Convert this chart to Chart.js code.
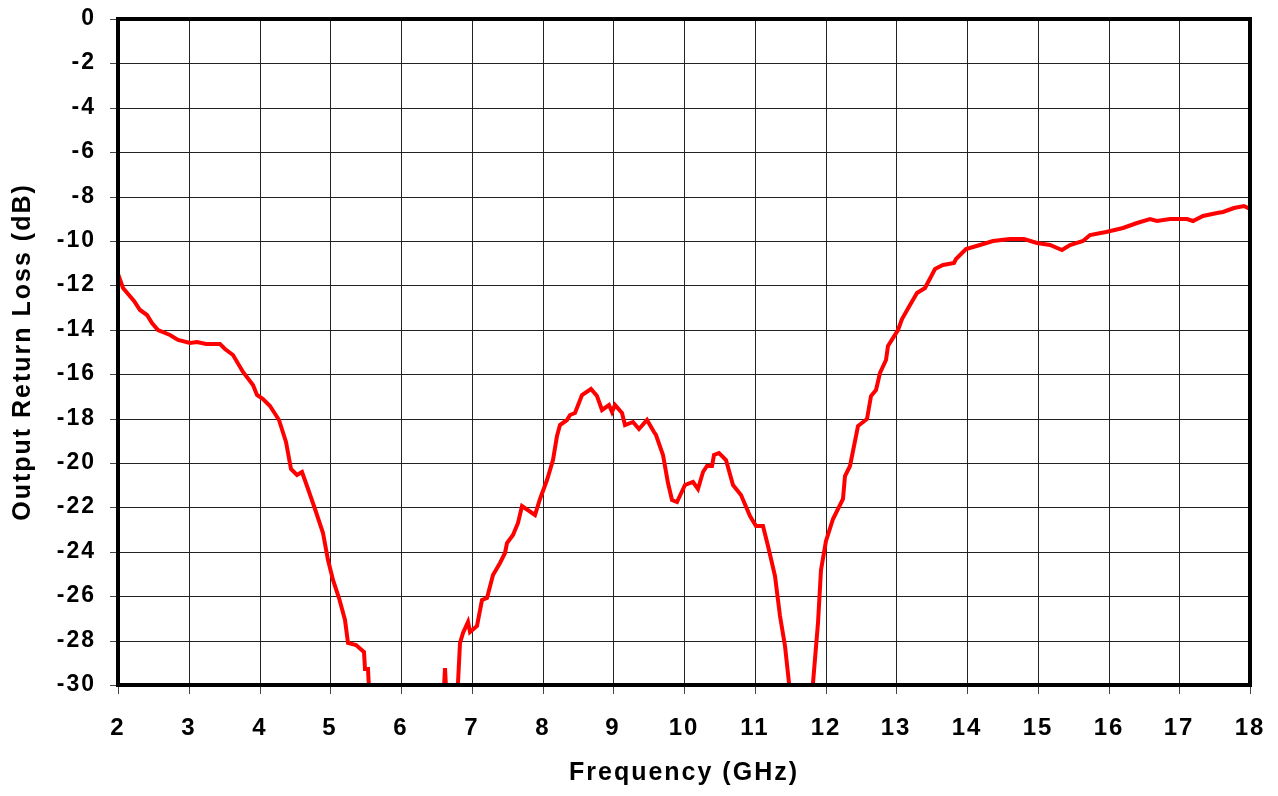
<!DOCTYPE html>
<html>
<head>
<meta charset="utf-8">
<script src="https://cdn.jsdelivr.net/npm/chart.js@4"></script>
<style>
  html, body { margin: 0; padding: 0; background: #fff; }
  #wrap { width: 1278px; height: 796px; }
</style>
</head>
<body>
<div id="wrap"><canvas id="chart" width="1278" height="796"></canvas></div>
<script>
// Output return loss vs frequency
const freqGHz = [
  2.00, 2.07, 2.22, 2.31, 2.41, 2.48, 2.57, 2.73, 2.85, 3.02, 3.11, 3.25, 3.44, 3.51, 3.63,
  3.77, 3.91, 3.96, 4.05, 4.15, 4.27, 4.38, 4.45, 4.53, 4.60, 4.67, 4.78, 4.90, 4.97, 5.04,
  5.13, 5.21, 5.25, 5.37, 5.47, 5.49, 5.54, 5.56,
  6.60, 6.62, 6.65, 6.77, 6.80, 6.83, 6.88, 6.94, 6.97, 7.07, 7.14, 7.21, 7.30, 7.40, 7.47,
  7.50, 7.59, 7.66, 7.71, 7.89, 7.96, 8.06, 8.15, 8.20, 8.25, 8.34, 8.39, 8.46, 8.56, 8.68,
  8.77, 8.84, 8.94, 8.98, 9.03, 9.12, 9.17, 9.28, 9.36, 9.47, 9.57, 9.61, 9.71, 9.78, 9.83,
  9.90, 10.01, 10.13, 10.20, 10.27, 10.32, 10.40, 10.43, 10.50, 10.60, 10.69, 10.81, 10.93,
  11.02, 11.12, 11.19, 11.28, 11.35, 11.43, 11.49, 11.51,
  11.81, 11.83, 11.90, 11.94, 12.01, 12.11, 12.25, 12.27, 12.34, 12.46, 12.58, 12.65, 12.72,
  12.77, 12.86, 12.88, 13.03, 13.08, 13.19, 13.29, 13.41, 13.55, 13.66, 13.81, 13.85, 13.99,
  14.18, 14.37, 14.61, 14.80, 14.99, 15.17, 15.34, 15.46, 15.64, 15.74, 15.97, 16.21, 16.40,
  16.59, 16.68, 16.87, 17.11, 17.20, 17.34, 17.53, 17.62, 17.77, 17.91, 18.00
];
const returnLossDb = [
  -11.5, -12.1, -12.7, -13.1, -13.35, -13.7, -14.0, -14.25, -14.45, -14.6, -14.55, -14.65, -14.65, -14.85, -15.15,
  -15.9, -16.5, -16.95, -17.1, -17.45, -18.05, -19.05, -20.25, -20.55, -20.4, -21.05, -22.05, -23.15, -24.35, -25.25,
  -26.1, -27.05, -28.1, -28.2, -28.5, -29.3, -29.3, -31,
  -31, -29.25, -31, -31, -29.9, -28.1, -27.65, -27.15, -27.6, -27.35, -26.15, -26.1, -25.05, -24.5, -24.05,
  -23.6, -23.25, -22.7, -21.95, -22.35, -21.6, -20.75, -19.85, -18.8, -18.3, -18.05, -17.85, -17.75, -16.95, -16.65,
  -17.0, -17.6, -17.4, -17.7, -17.4, -17.75, -18.3, -18.15, -18.45, -18.05, -18.6, -18.75, -19.65, -20.9, -21.65,
  -21.75, -21.0, -20.85, -21.15, -20.4, -20.15, -20.15, -19.65, -19.55, -19.85, -21.0, -21.45, -22.4,
  -22.85, -22.85, -23.75, -25.1, -26.9, -28.25, -29.9, -31,
  -31, -29.9, -27.2, -24.8, -23.5, -22.5, -21.6, -20.6, -20.15, -18.35, -18.0, -17.0, -16.7,
  -15.95, -15.35, -14.75, -14.0, -13.5, -12.9, -12.35, -12.1, -11.25, -11.1, -11.0, -10.8, -10.35,
  -10.2, -10.0, -9.9, -9.9, -10.1, -10.2, -10.4, -10.2, -10.0, -9.75, -9.6, -9.4, -9.2,
  -9.0, -9.12, -9.02, -9.02, -9.12, -8.88, -8.72, -8.68, -8.5, -8.42, -8.55
];
const xTitle = 'Frequency (GHz)';
const yTitle = 'Output Return Loss (dB)';

const fontFamily = "'Liberation Sans', Arial, sans-serif";

// the original lettering runs wider than Liberation Sans
const wideText = {
  id: 'wideText',
  beforeLayout(chart) {
    chart.ctx.letterSpacing = '2px';
  },
  beforeDraw(chart) {
    chart.ctx.letterSpacing = '2px';
  },
};

// heavy frame round the plot area
const frame = {
  id: 'frame',
  afterDatasetsDraw(chart) {
    const { ctx, chartArea: a } = chart;
    ctx.save();
    ctx.strokeStyle = '#000';
    ctx.lineWidth = 4;
    ctx.strokeRect(a.left, a.top, a.right - a.left, a.bottom - a.top);
    ctx.restore();
  },
};

window.onload = () => {
  new Chart(document.getElementById('chart'), {
    type: 'line',
    data: {
      datasets: [
        {
          data: freqGHz.map((f, i) => ({ x: f, y: returnLossDb[i] })),
          borderColor: '#ff0000',
          borderWidth: 4,
          pointRadius: 0,
          tension: 0,
        },
      ],
    },
    options: {
      responsive: false,
      animation: false,
      layout: { padding: { top: 19, right: 28, left: 0, bottom: 0 } },
      plugins: { legend: { display: false }, tooltip: { enabled: false } },
      scales: {
        x: {
          type: 'linear',
          min: 2,
          max: 18,
          alignToPixels: true,
          afterFit: s => {
            s.height = 111;
            s.paddingLeft = 0;
            s.paddingRight = 0;
          },
          ticks: {
            stepSize: 1,
            padding: 20,
            color: '#000',
            font: { family: fontFamily, size: 24, weight: 'bold' },
          },
          grid: { color: '#222', lineWidth: 1, tickLength: 9, tickColor: '#444' },
          border: { display: false },
          title: {
            display: true,
            text: xTitle,
            color: '#000',
            font: { family: fontFamily, size: 25, weight: 'bold' },
            padding: { top: 0, bottom: 8 },
          },
        },
        y: {
          min: -30,
          max: 0,
          alignToPixels: true,
          afterFit: s => {
            s.width = 118;
            s.paddingTop = 0;
            s.paddingBottom = 0;
          },
          ticks: {
            stepSize: 2,
            padding: 14,
            color: '#000',
            font: { family: fontFamily, size: 23, weight: 'bold' },
          },
          grid: { color: '#222', lineWidth: 1, tickLength: 8, tickColor: '#444' },
          border: { display: false },
          title: {
            display: true,
            text: yTitle,
            color: '#000',
            font: { family: fontFamily, size: 25, weight: 'bold' },
            padding: { top: 8, bottom: 0 },
          },
        },
      },
    },
    plugins: [wideText, frame],
  });
};
</script>
</body>
</html>
